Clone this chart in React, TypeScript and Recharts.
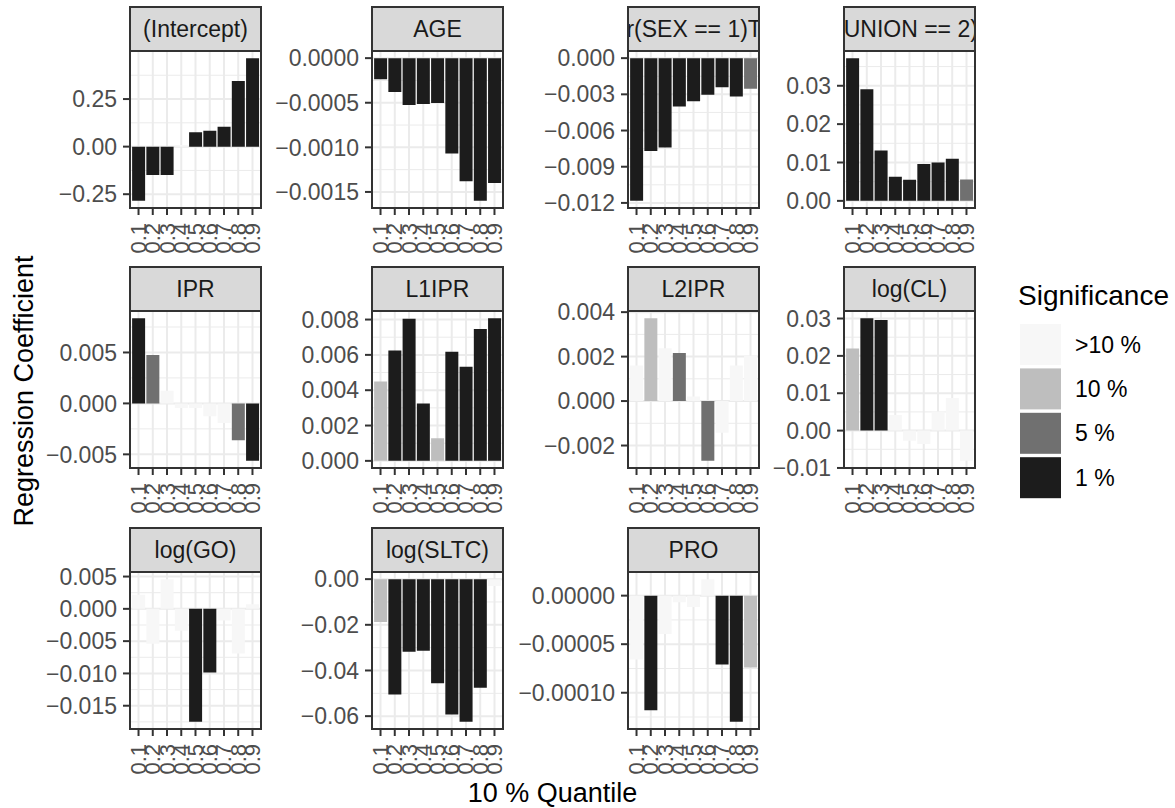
import React from "react";
import { BarChart, Bar, XAxis, YAxis, CartesianGrid, Cell } from "recharts";

// ---------------- data ----------------
const quantiles = ["0.1", "0.2", "0.3", "0.4", "0.5", "0.6", "0.7", "0.8", "0.9"];

const significanceLevels = [">10 %", "10 %", "5 %", "1 %"];
const significanceColors = ["#F7F7F7", "#BEBEBE", "#707070", "#1C1C1C"];

const interceptCoef = [-0.285, -0.149, -0.149, 0.008, 0.075, 0.083, 0.104, 0.345, 0.465];
const interceptSig = ["1 %", "1 %", "1 %", ">10 %", "1 %", "1 %", "1 %", "1 %", "1 %"];
const interceptTicks = [-0.25, 0, 0.25];
const interceptTickLabels = ["\u22120.25", "0.00", "0.25"];

const ageCoef = [-0.000237, -0.000381, -0.000526, -0.000515, -0.000504, -0.00107, -0.00138, -0.0016, -0.0014];
const ageSig = ["1 %", "1 %", "1 %", "1 %", "1 %", "1 %", "1 %", "1 %", "1 %"];
const ageTicks = [-0.0015, -0.001, -0.0005, 0];
const ageTickLabels = ["\u22120.0015", "\u22120.0010", "\u22120.0005", "0.0000"];

const sexCoef = [-0.01183, -0.0077, -0.0074, -0.004, -0.00358, -0.00303, -0.00242, -0.00317, -0.00253];
const sexSig = ["1 %", "1 %", "1 %", "1 %", "1 %", "1 %", "1 %", "1 %", "5 %"];
const sexTicks = [-0.012, -0.009, -0.006, -0.003, 0];
const sexTickLabels = ["\u22120.012", "\u22120.009", "\u22120.006", "\u22120.003", "0.000"];

const unionCoef = [0.0372, 0.0291, 0.0131, 0.0063, 0.0055, 0.0096, 0.01, 0.011, 0.0056];
const unionSig = ["1 %", "1 %", "1 %", "1 %", "1 %", "1 %", "1 %", "1 %", "5 %"];
const unionTicks = [0, 0.01, 0.02, 0.03];
const unionTickLabels = ["0.00", "0.01", "0.02", "0.03"];

const iprCoef = [0.00837, 0.00476, 0.00124, -0.00046, -0.00046, -0.00127, -0.00192, -0.00362, -0.00564];
const iprSig = ["1 %", "5 %", ">10 %", ">10 %", ">10 %", ">10 %", ">10 %", "5 %", "1 %"];
const iprTicks = [-0.005, 0, 0.005];
const iprTickLabels = ["\u22120.005", "0.000", "0.005"];

const l1iprCoef = [0.00449, 0.00625, 0.00804, 0.00325, 0.00128, 0.00618, 0.00533, 0.00747, 0.00808];
const l1iprSig = ["10 %", "1 %", "1 %", "1 %", "10 %", "1 %", "1 %", "1 %", "1 %"];
const l1iprTicks = [0, 0.002, 0.004, 0.006, 0.008];
const l1iprTickLabels = ["0.000", "0.002", "0.004", "0.006", "0.008"];

const l2iprCoef = [0.0016, 0.00373, 0.00237, 0.00216, 0.0002, -0.00269, -0.00143, 0.0016, 0.00204];
const l2iprSig = [">10 %", "10 %", ">10 %", "5 %", ">10 %", "5 %", ">10 %", ">10 %", ">10 %"];
const l2iprTicks = [-0.002, 0, 0.002, 0.004];
const l2iprTickLabels = ["\u22120.002", "0.000", "0.002", "0.004"];

const logClCoef = [0.022, 0.0301, 0.0296, 0.0042, -0.0027, -0.0036, 0.0051, 0.0087, -0.0081];
const logClSig = ["10 %", "1 %", "1 %", ">10 %", ">10 %", ">10 %", ">10 %", ">10 %", ">10 %"];
const logClTicks = [-0.01, 0, 0.01, 0.02, 0.03];
const logClTickLabels = ["\u22120.01", "0.00", "0.01", "0.02", "0.03"];

const logGoCoef = [0.0022, -0.0054, 0.0046, -0.0034, -0.0175, -0.00985, -0.0018, -0.0069, 0.0007];
const logGoSig = [">10 %", ">10 %", ">10 %", ">10 %", "1 %", "1 %", ">10 %", ">10 %", ">10 %"];
const logGoTicks = [-0.015, -0.01, -0.005, 0, 0.005];
const logGoTickLabels = ["\u22120.015", "\u22120.010", "\u22120.005", "0.000", "0.005"];

const logSltcCoef = [-0.0188, -0.0505, -0.0318, -0.0314, -0.0456, -0.0593, -0.0625, -0.0476, -0.003];
const logSltcSig = ["10 %", "1 %", "1 %", "1 %", "1 %", "1 %", "1 %", "1 %", ">10 %"];
const logSltcTicks = [-0.06, -0.04, -0.02, 0];
const logSltcTickLabels = ["\u22120.06", "\u22120.04", "\u22120.02", "0.00"];

const proCoef = [-0.0000658, -0.000118, -0.0000394, -0.0000068, -0.0000116, 0.000017, -0.0000708, -0.00013, -0.000074];
const proSig = [">10 %", "1 %", ">10 %", ">10 %", ">10 %", ">10 %", "1 %", "1 %", "10 %"];
const proTicks = [-0.0001, -0.00005, 0];
const proTickLabels = ["\u22120.00010", "\u22120.00005", "0.00000"];

const facetLabels = [
  "(Intercept)", "AGE", "factor(SEX == 1)TRUE", "factor(UNION == 2)TRUE",
  "IPR", "L1IPR", "L2IPR", "log(CL)",
  "log(GO)", "log(SLTC)", "PRO",
];

const yTitle = "Regression Coefficient";
const xTitle = "10 % Quantile";
const legendTitle = "Significance";

// ---------------- layout ----------------
const FONT = "'Liberation Sans', Arial, Helvetica, sans-serif";
const COL_LEFT = [130, 372, 628, 844];
const ROW_TOP = [51, 311, 572];
const PANEL_W = 131;
const PANEL_H = 157;
const STRIP_H = 44;
const AXIS_W = 125;
const XAXIS_H = 50;
const TOP_PAD = 16;
const RIGHT_PAD = 12;

const facets = [
  { coef: interceptCoef, sig: interceptSig, ticks: interceptTicks, labels: interceptTickLabels },
  { coef: ageCoef, sig: ageSig, ticks: ageTicks, labels: ageTickLabels },
  { coef: sexCoef, sig: sexSig, ticks: sexTicks, labels: sexTickLabels },
  { coef: unionCoef, sig: unionSig, ticks: unionTicks, labels: unionTickLabels },
  { coef: iprCoef, sig: iprSig, ticks: iprTicks, labels: iprTickLabels },
  { coef: l1iprCoef, sig: l1iprSig, ticks: l1iprTicks, labels: l1iprTickLabels },
  { coef: l2iprCoef, sig: l2iprSig, ticks: l2iprTicks, labels: l2iprTickLabels },
  { coef: logClCoef, sig: logClSig, ticks: logClTicks, labels: logClTickLabels },
  { coef: logGoCoef, sig: logGoSig, ticks: logGoTicks, labels: logGoTickLabels },
  { coef: logSltcCoef, sig: logSltcSig, ticks: logSltcTicks, labels: logSltcTickLabels },
  { coef: proCoef, sig: proSig, ticks: proTicks, labels: proTickLabels },
].map((f, i) => ({ ...f, label: facetLabels[i] }));

const colorOf = (s: string) => significanceColors[significanceLevels.indexOf(s)];

const XTick = (props: any) => {
  const { x, y, payload } = props;
  return (
    <text
      x={x}
      y={y}
      transform={`rotate(-90, ${x}, ${y})`}
      textAnchor="end"
      dominantBaseline="central"
      fontSize={22}
      fill="#4D4D4D"
      fontFamily={FONT}
    >
      {payload.value}
    </text>
  );
};

function Facet({ facet, idx }: { facet: any; idx: number }) {
  const col = idx % 4;
  const row = Math.floor(idx / 4);
  const left = COL_LEFT[col];
  const top = ROW_TOP[row];
  const data = quantiles.map((q, i) => ({ q, v: facet.coef[i], s: facet.sig[i] }));
  const lo = Math.min(0, ...facet.coef);
  const hi = Math.max(0, ...facet.coef);
  const pad = (hi - lo) * 0.05;
  const domain: [number, number] = [lo - pad, hi + pad];
  const majors: number[] = [...facet.ticks].sort((a: number, b: number) => a - b);
  const step = majors[1] - majors[0];
  const minors = [majors[0] - step / 2, ...majors.map((m) => m + step / 2)].filter(
    (m) => m > domain[0] && m < domain[1]
  );
  const fmt = (v: number) => {
    const i = facet.ticks.findIndex((t: number) => Math.abs(t - v) < 1e-12);
    return i >= 0 ? facet.labels[i] : String(v);
  };
  return (
    <>
      <div style={{ position: "absolute", left: left - AXIS_W, top: top - TOP_PAD }}>
        <BarChart
          width={AXIS_W + PANEL_W + RIGHT_PAD}
          height={TOP_PAD + PANEL_H + XAXIS_H}
          data={data}
          margin={{ top: TOP_PAD, right: RIGHT_PAD, bottom: 0, left: 0 }}
          barCategoryGap="5%"
        >
          <CartesianGrid vertical={false} horizontalValues={minors} stroke="#EBEBEB" strokeWidth={1} />
          <CartesianGrid stroke="#EBEBEB" strokeWidth={2} />
          <XAxis
            dataKey="q"
            type="category"
            interval={0}
            height={XAXIS_H}
            padding={{ left: 1.4, right: 1.4 }}
            axisLine={false}
            tickSize={7}
            tickMargin={8}
            tickLine={{ stroke: "#333333", strokeWidth: 2 }}
            tick={<XTick />}
          />
          <YAxis
            type="number"
            domain={domain}
            allowDataOverflow
            ticks={facet.ticks}
            interval={0}
            width={AXIS_W}
            axisLine={false}
            tickSize={7}
            tickMargin={6}
            tickLine={{ stroke: "#333333", strokeWidth: 2 }}
            tick={{ fill: "#4D4D4D", fontSize: 23, fontFamily: FONT }}
            tickFormatter={fmt}
          />
          <Bar dataKey="v" isAnimationActive={false}>
            {data.map((d, i) => (
              <Cell key={i} fill={colorOf(d.s)} />
            ))}
          </Bar>
        </BarChart>
      </div>
      <div
        style={{
          position: "absolute",
          left: left - 1,
          top: top - 1,
          width: PANEL_W + 2,
          height: PANEL_H + 2,
          border: "2px solid #333333",
          boxSizing: "border-box",
          pointerEvents: "none",
        }}
      />
      <div
        style={{
          position: "absolute",
          left: left - 1,
          top: top - STRIP_H - 1,
          width: PANEL_W + 2,
          height: STRIP_H + 2,
          border: "2px solid #333333",
          boxSizing: "border-box",
          background: "#D9D9D9",
          overflow: "hidden",
          display: "flex",
          alignItems: "center",
          justifyContent: "center",
          whiteSpace: "nowrap",
          fontFamily: FONT,
          fontSize: 23,
          color: "#1A1A1A",
        }}
      >
        <span>{facet.label}</span>
      </div>
    </>
  );
}

export default function App() {
  return (
    <div
      style={{
        position: "absolute",
        left: 0,
        top: 0,
        width: 1175,
        height: 808,
        background: "#FFFFFF",
        overflow: "hidden",
        fontFamily: FONT,
      }}
    >
      {facets.map((f, i) => (
        <Facet key={i} facet={f} idx={i} />
      ))}
      <svg
        width={1175}
        height={808}
        style={{ position: "absolute", left: 0, top: 0, pointerEvents: "none" }}
      >
        <text
          x={33}
          y={391}
          transform="rotate(-90, 33, 391)"
          textAnchor="middle"
          fontSize={27}
          fontFamily={FONT}
          fill="#000000"
        >
          {yTitle}
        </text>
        <text x={552.5} y={802} textAnchor="middle" fontSize={27} fontFamily={FONT} fill="#000000">
          {xTitle}
        </text>
        <text x={1018} y={305} fontSize={28} fontFamily={FONT} fill="#000000">
          {legendTitle}
        </text>
        {significanceLevels.map((lvl, i) => (
          <g key={lvl}>
            <rect x={1020} y={324 + i * 44.4} width={41} height={41} fill={significanceColors[i]} />
            <text
              x={1075}
              y={324 + i * 44.4 + 20.5}
              dominantBaseline="central"
              fontSize={23}
              fontFamily={FONT}
              fill="#000000"
            >
              {lvl}
            </text>
          </g>
        ))}
      </svg>
    </div>
  );
}
